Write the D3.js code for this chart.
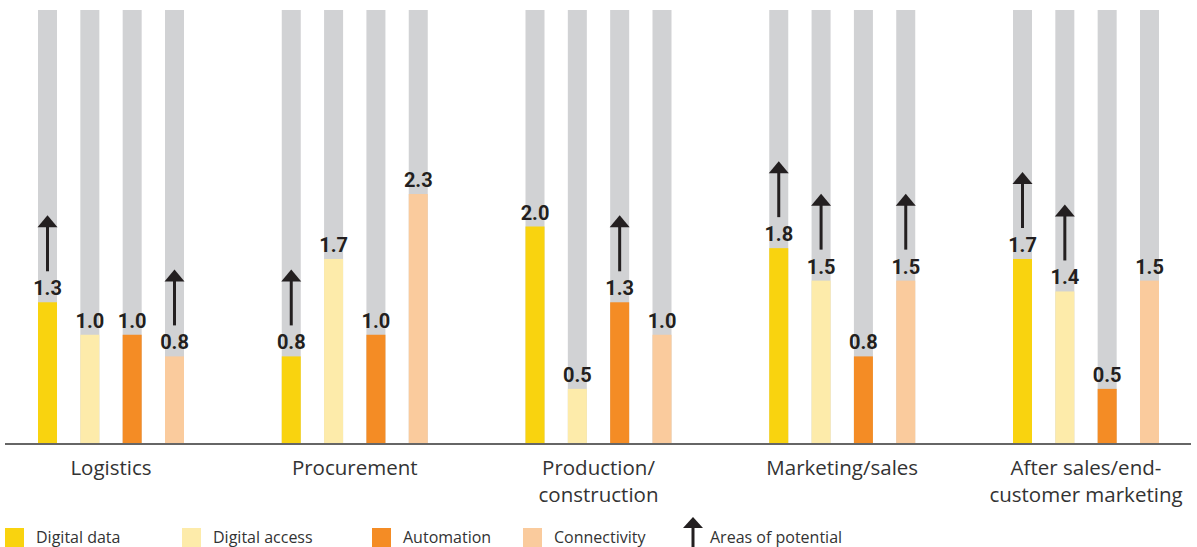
<!DOCTYPE html>
<html>
<head>
<meta charset="utf-8">
<script src="https://cdn.jsdelivr.net/npm/d3@7"></script>
<style>
  html, body { margin: 0; padding: 0; background: #fff; }
  svg { display: block; }
</style>
</head>
<body>
<svg id="chart" width="1197" height="547"></svg>
<script>
// Business areas (x groups) and the four digitisation dimensions (bars per group)
const categories = ["Logistics", "Procurement", "Production/\nconstruction", "Marketing/sales", "After sales/end-\ncustomer marketing"];
const series = ["Digital data", "Digital access", "Automation", "Connectivity"];

// Scores per dimension, one value per business area
const digitalData   = [1.3, 0.8, 2.0, 1.8, 1.7];
const digitalAccess = [1.0, 1.7, 0.5, 1.5, 1.4];
const automation    = [1.0, 1.0, 1.3, 0.8, 0.5];
const connectivity  = [0.8, 2.3, 1.0, 1.5, 1.5];

// Which bars are flagged as an area of potential (arrow)
const potentialData   = [true, true, false, true, true];
const potentialAccess = [false, false, false, true, true];
const potentialAuto   = [false, false, true, false, false];
const potentialConn   = [true, false, false, true, false];

const scaleMax = 4;

const colors = ["#F9D30F", "#FDEBAA", "#F48C25", "#FACB9D"];
const trackColor = "#D1D2D4";
const inkColor = "#231F20";

const valuesBySeries = [digitalData, digitalAccess, automation, connectivity];
const potentialBySeries = [potentialData, potentialAccess, potentialAuto, potentialConn];

const rows = [];
categories.forEach((c, ci) => {
  series.forEach((s, si) => {
    rows.push({ category: c, series: s, si, value: valuesBySeries[si][ci], potential: potentialBySeries[si][ci] });
  });
});

const svg = d3.select("#chart");
const baseY = 443;

const x0 = d3.scaleBand().domain(categories).range([38, 1159]).paddingInner(0.401).paddingOuter(0);
const x1 = d3.scaleBand().domain(series).range([0, x0.bandwidth()]).paddingInner(0.551).paddingOuter(0);
const y = d3.scaleLinear().domain([0, scaleMax]).range([baseY, 10]);
const color = d3.scaleOrdinal().domain(series).range(colors);

const groups = svg.append("g").selectAll("g.group")
  .data(categories).join("g")
  .attr("class", "group")
  .attr("transform", d => `translate(${x0(d)},0)`);

const bars = groups.selectAll("g.bar")
  .data(c => rows.filter(r => r.category === c))
  .join("g").attr("class", "bar")
  .attr("transform", d => `translate(${x1(d.series)},0)`);

// full-height track
bars.append("rect")
  .attr("x", 0).attr("width", x1.bandwidth())
  .attr("y", y(scaleMax)).attr("height", y(0) - y(scaleMax))
  .attr("fill", trackColor);

// value bar
bars.append("rect")
  .attr("x", 0).attr("width", x1.bandwidth())
  .attr("y", d => y(d.value)).attr("height", d => y(0) - y(d.value))
  .attr("fill", d => color(d.series));

// value labels
bars.append("text")
  .attr("x", x1.bandwidth() / 2)
  .attr("y", d => y(d.value) - 7)
  .attr("text-anchor", "middle")
  .attr("font-family", "Roboto, 'DejaVu Sans', sans-serif")
  .attr("font-weight", 700)
  .attr("font-size", 20)
  .attr("fill", inkColor)
  .text(d => d3.format(".1f")(d.value));

// potential arrows
function drawArrow(sel, cx, tipY, baseYPos, headH, headW) {
  sel.append("line")
    .attr("x1", cx).attr("x2", cx)
    .attr("y1", baseYPos).attr("y2", tipY + headH - 1)
    .attr("stroke", inkColor).attr("stroke-width", 3);
  sel.append("path")
    .attr("d", `M${cx},${tipY} L${cx + headW / 2},${tipY + headH} L${cx - headW / 2},${tipY + headH} Z`)
    .attr("fill", inkColor);
}
bars.filter(d => d.potential).each(function (d) {
  const top = y(d.value);
  drawArrow(d3.select(this), x1.bandwidth() / 2, top - 87, top - 31, 12, 20);
});

// baseline
svg.append("line")
  .attr("x1", 5).attr("x2", 1191)
  .attr("y1", baseY + 1).attr("y2", baseY + 1)
  .attr("stroke", "#666666").attr("stroke-width", 2);

// category labels
const catLabels = svg.append("g").selectAll("text")
  .data(categories).join("text")
  .attr("x", d => x0(d) + x0.bandwidth() / 2)
  .attr("y", 475)
  .attr("text-anchor", "middle")
  .attr("font-family", "'Open Sans', 'Noto Sans', sans-serif")
  .attr("font-size", 20.5)
  .attr("fill", "#333333");
catLabels.each(function (d) {
  const t = d3.select(this);
  d.split("\n").forEach((line, i) => {
    t.append("tspan").attr("x", x0(d) + x0.bandwidth() / 2).attr("dy", i === 0 ? 0 : 27).text(line);
  });
});

// legend
const legendX = [5, 182, 372, 523];
const legend = svg.append("g").selectAll("g")
  .data(series).join("g")
  .attr("transform", (d, i) => `translate(${legendX[i]},528)`);
legend.append("rect").attr("width", 19).attr("height", 19).attr("fill", d => color(d));
legend.append("text")
  .attr("x", 31).attr("y", 15)
  .attr("font-family", "'Open Sans', 'Noto Sans', sans-serif")
  .attr("font-size", 16)
  .attr("fill", "#333333")
  .text(d => d);

const legArrow = svg.append("g").attr("transform", "translate(683,0)");
drawArrow(legArrow, 10, 517, 550, 11, 20);
legArrow.append("text")
  .attr("x", 27).attr("y", 543)
  .attr("font-family", "'Open Sans', 'Noto Sans', sans-serif")
  .attr("font-size", 16)
  .attr("fill", "#333333")
  .text("Areas of potential");
</script>
</body>
</html>
